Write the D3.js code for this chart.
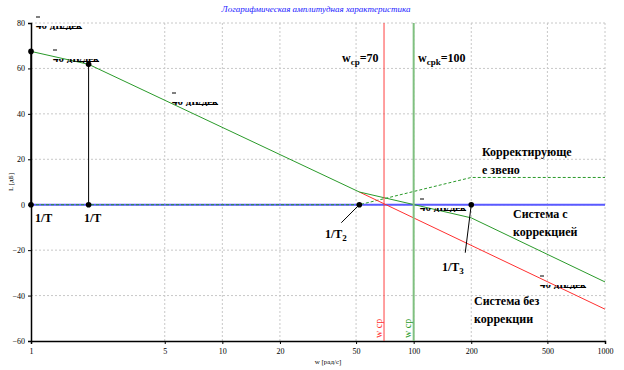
<!DOCTYPE html>
<html><head><meta charset="utf-8">
<script src="https://cdn.jsdelivr.net/npm/d3@7"></script>
<style>body{margin:0;background:#fff}svg{display:block}</style>
</head><body><svg id="c" width="624" height="370"></svg>
<script>
const freqTicks = [1,5,10,20,50,100,200,500,1000];
const dbTicks = [-60,-40,-20,0,20,40,60,80];
const uncorrW = [52,1000];
const uncorrL = [5.6,-46];
const corrW = [1,2,52,200,1000];
const corrL = [67.5,61.8,5.6,-5.8,-34];
const linkW = [1,52,200,1000];
const linkL = [0,0,12,12];
const dotW = [1,2,1,2,52,200];
const dotL = [67.5,61.8,0,0,0,0];
const wcp = 70, wcpk = 100;

const FF = "'Liberation Serif', 'Times New Roman', Times, serif";
const svg = d3.select("#c");
const L=31,R=605,T=23,B=341;
const x = d3.scaleLog().domain([1,1000]).range([L,R]);
const y = d3.scaleLinear().domain([-60,80]).range([B,T]);

// grid
svg.append("g").selectAll("line").data(freqTicks.slice(1)).join("line")
  .attr("x1",d=>x(d)).attr("x2",d=>x(d)).attr("y1",T).attr("y2",B)
  .attr("stroke","#c8c8c8").attr("stroke-dasharray","2,2");
svg.append("g").selectAll("line").data(dbTicks.slice(1)).join("line")
  .attr("x1",L).attr("x2",R).attr("y1",d=>y(d)).attr("y2",d=>y(d))
  .attr("stroke","#c8c8c8").attr("stroke-dasharray","2,2");

// axes
const xa = svg.append("g").attr("transform",`translate(0,${B})`)
  .call(d3.axisBottom(x).tickValues(freqTicks).tickFormat(d3.format("d")).tickSize(3).tickPadding(4));
const ya = svg.append("g").attr("transform",`translate(${L},0)`)
  .call(d3.axisLeft(y).tickValues(dbTicks).tickSize(3).tickPadding(3));
[xa,ya].forEach(a=>{a.attr("font-family",null);a.select(".domain").attr("stroke","#000").attr("stroke-width",1.5);
  a.selectAll("text").style("font-family",FF).attr("font-size",8).attr("fill","#000");});

function txt(){return svg.append("text").style("font-family",FF);}
// title & axis labels
txt().attr("x",316).attr("y",12).attr("text-anchor","middle")
  .attr("font-size",9).attr("font-style","italic").attr("fill","#1a1aff")
  .text("Логарифмическая амплитудная характеристика");
txt().attr("transform","translate(13,182) rotate(-90)").attr("text-anchor","middle")
  .attr("font-size",7).text("L [дБ]");
txt().attr("x",328).attr("y",364).attr("text-anchor","middle")
  .attr("font-size",7).text("w [рад/с]");

const line = d3.line().x(d=>x(d[0])).y(d=>y(d[1]));
// blue zero line
svg.append("line").attr("x1",x(1)).attr("x2",x(1000)).attr("y1",y(0)).attr("y2",y(0))
  .attr("stroke","#5a5aff").attr("stroke-width",2);
// corrective link (dashed)
svg.append("path").attr("d",line(linkW.map((w,i)=>[w,linkL[i]]))).attr("fill","none")
  .attr("stroke","#2a9a2a").attr("stroke-width",1).attr("stroke-dasharray","3,2");
// uncorrected (red)
svg.append("path").attr("d",line(uncorrW.map((w,i)=>[w,uncorrL[i]]))).attr("fill","none")
  .attr("stroke","#ff3030").attr("stroke-width",1);
// corrected (green)
svg.append("path").attr("d",line(corrW.map((w,i)=>[w,corrL[i]]))).attr("fill","none")
  .attr("stroke","#2a9a2a").attr("stroke-width",1);

// vertical lines wcp and wcpk
svg.append("line").attr("x1",x(wcp)).attr("x2",x(wcp)).attr("y1",T).attr("y2",B)
  .attr("stroke","#ff4040").attr("stroke-width",1);
svg.append("line").attr("x1",x(wcpk)).attr("x2",x(wcpk)).attr("y1",T).attr("y2",B)
  .attr("stroke","#80c080").attr("stroke-width",2);
txt().attr("transform",`translate(${x(wcp)-2},${B-3}) rotate(-90)`).attr("font-size",10)
  .attr("fill","#ff3030").text("w ср");
txt().attr("transform",`translate(${x(wcpk)-3},${B-3}) rotate(-90)`).attr("font-size",10)
  .attr("fill","#2a9a2a").text("w ср");

// black verticals
svg.append("line").attr("x1",x(2)).attr("x2",x(2)).attr("y1",y(0)).attr("y2",y(61.8)).attr("stroke","#000");
svg.append("line").attr("x1",x(1)).attr("x2",x(1)).attr("y1",y(0)).attr("y2",y(67.5)).attr("stroke","#000").attr("stroke-width",1.5);
// leaders
svg.append("line").attr("x1",x(52)).attr("y1",y(0)).attr("x2",x(52)-18).attr("y2",y(0)+18).attr("stroke","#000");
svg.append("line").attr("x1",x(200)).attr("y1",y(0)).attr("x2",x(200)-6).attr("y2",y(0)+48).attr("stroke","#000");

// dots
svg.append("g").selectAll("circle").data(dotW.map((w,i)=>[w,dotL[i]])).join("circle")
  .attr("cx",d=>x(d[0])).attr("cy",d=>y(d[1])).attr("r",2.8).attr("fill","#000");

// bold labels
function lbl(px,py,parts,size){
  size=size||12;
  const t=txt().attr("x",px).attr("y",py).attr("font-size",size).attr("font-weight","bold").attr("fill","#000");
  parts.forEach(p=>{const s=t.append("tspan").text(p[0]);
    if(p[1]){s.attr("font-size",size*0.75).attr("dy",3);} else if(p[2]) {s.attr("dy",-3);} });
}
lbl(342,62,[["w"],["ср",1],["=70",0,1]]);
lbl(418,62,[["w"],["срk",1],["=100",0,1]]);
lbl(35,222,[["1/T"]]);
lbl(84,222,[["1/T"]]);
lbl(325,238,[["1/T"],["2",1]]);
lbl(442,271,[["1/T"],["3",1]]);
[["Корректирующе",482,156],["е звено",482,174],["Система с",513,218],["коррекцией",513,236],["Система без",474,305],["коррекции",474,323]]
  .forEach(d=>lbl(d[1],d[2],[[d[0]]]));

// clipped slope labels
const defs=svg.append("defs");
[[36,28],[53,61],[172,104],[420,210],[540,287]].forEach((p,i)=>{
  defs.append("clipPath").attr("id","cl"+i).append("rect").attr("x",p[0]-2).attr("y",p[1]-2).attr("width",60).attr("height",4);
  svg.append("line").attr("x1",p[0]).attr("x2",p[0]+4).attr("y1",p[1]-11).attr("y2",p[1]-11).attr("stroke","#000");
  txt().attr("x",p[0]).attr("y",p[1]+1).attr("font-size",11).attr("font-weight","bold")
    .attr("clip-path",`url(#cl${i})`).text("40 дБ/дек");
  svg.append("line").attr("x1",p[0]+24).attr("x2",p[0]+46).attr("y1",p[1]+0.5).attr("y2",p[1]+0.5).attr("stroke","#000");
});
</script></body></html>
